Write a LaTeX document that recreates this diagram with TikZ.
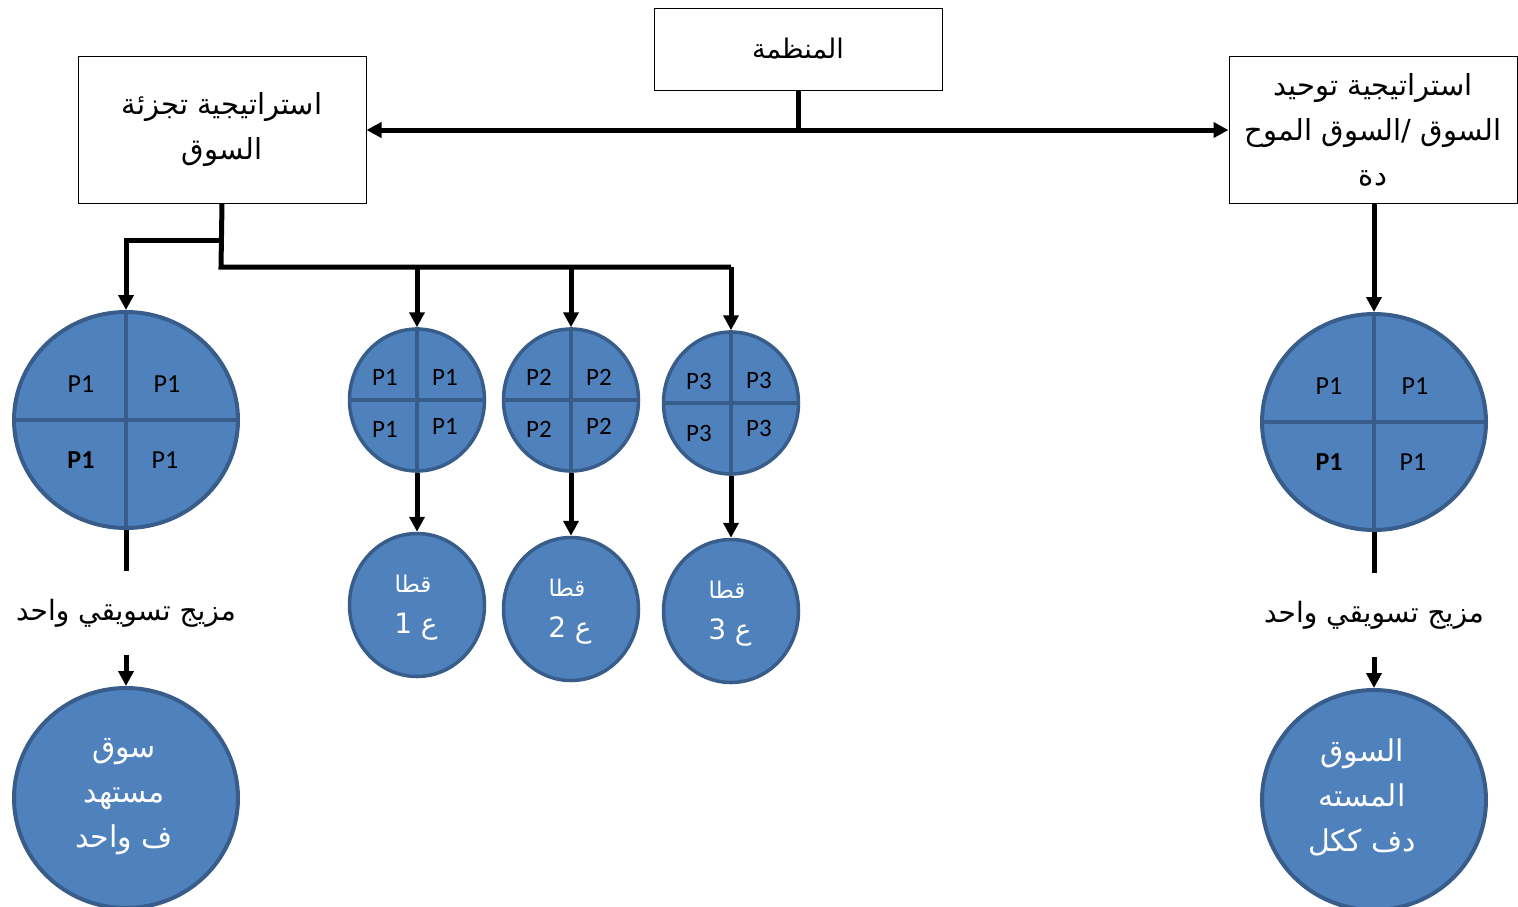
\documentclass[tikz,border=0pt]{standalone}
\usepackage{fontspec}
\usetikzlibrary{arrows.meta,shapes.geometric,calc}
\TeXXeTstate=1
\newfontfamily\arabicfont[Script=Arabic]{DejaVu Sans}
\newfontfamily\pfont{Carlito}
\definecolor{segblue}{RGB}{79,129,189}
\definecolor{segedge}{RGB}{56,93,138}
\tikzset{
  box/.style={draw=black, line width=1pt, fill=white, align=center, inner sep=0pt,
    minimum width=288pt, font=\arabicfont\fontsize{29}{45}\selectfont},
  conn/.style={line width=5pt, draw=black},
  arr/.style={conn, -{Triangle[length=15pt,width=15pt]}},
  bigc/.style={ellipse, fill=segblue, draw=segedge, line width=4pt, minimum width=224pt, minimum height=216pt, inner sep=0pt},
  smallc/.style={ellipse, fill=segblue, draw=segedge, line width=3.5pt, minimum width=135pt, minimum height=142pt, inner sep=0pt},
  quad/.style={draw=segedge, line width=4pt},
  plab/.style={font=\pfont\fontsize{26}{26}\selectfont, text=black, inner sep=0pt},
  splab/.style={font=\pfont\fontsize{25}{25}\selectfont, text=black, inner sep=0pt},
  bplab/.style={font=\pfont\bfseries\fontsize{26}{26}\selectfont, text=black, inner sep=0pt},
  mixtext/.style={font=\arabicfont\fontsize{28}{28}\selectfont, inner sep=0pt, minimum height=84pt},
  wtext/.style={text=white, align=center, font=\arabicfont\fontsize{30}{45}\selectfont},
}
\begin{document}
\begin{tikzpicture}[x=1pt,y=-1pt]
\useasboundingbox (0,0) rectangle (1518,906);

% top boxes
\node[box, minimum height=82pt, font=\arabicfont\fontsize{27}{27}\selectfont] (org) at (798,49) {\beginR المنظمة\endR};
\node[box, minimum height=147pt] (seg) at (222,130) {{\beginR استراتيجية تجزئة\endR}\\{\beginR السوق\endR}};
\node[box, minimum height=147pt] (uni) at (1373,130) {{\beginR استراتيجية توحيد\endR}\\{\beginR السوق /\kern0pt{}السوق الموح\endR}\\{\beginR دة\endR}};

\coordinate (hub) at (798,130);
\draw[conn] (org.south) -- (hub);
\draw[arr] (hub) -- (seg.east);
\draw[arr] (hub) -- (uni.west);

% left big circle
\node[bigc] (bigL) at (126,420) {};
\draw[quad] (bigL.north) -- (bigL.south);
\draw[quad] (bigL.west) -- (bigL.east);
\node[plab] (bL1) at (81,384) {P1};
\node[plab] (bL2) at (167,384) {P1};
\node[bplab] (bL3) at (81,460) {P1};
\node[plab] (bL4) at (165,460) {P1};

% small circles
\node[smallc] (c1) at (417,400) {};
\node[smallc] (c2) at (571,400) {};
\node[smallc] (c3) at (731,403) {};
\foreach \c in {c1,c2,c3}{
  \draw[quad, line width=3.5pt] (\c.north) -- (\c.south);
  \draw[quad, line width=3.5pt] (\c.west) -- (\c.east);
}
\node[splab] (c1a) at (385,377) {P1};
\node[splab] (c1b) at (445,377) {P1};
\node[splab] (c1c) at (385,429) {P1};
\node[splab] (c1d) at (445,426) {P1};
\node[splab] (c2a) at (539,377) {P2};
\node[splab] (c2b) at (599,377) {P2};
\node[splab] (c2c) at (539,429) {P2};
\node[splab] (c2d) at (599,426) {P2};
\node[splab] (c3a) at (699,381) {P3};
\node[splab] (c3b) at (759,380) {P3};
\node[splab] (c3c) at (699,433) {P3};
\node[splab] (c3d) at (759,428) {P3};

% left tree connectors
\coordinate (j1) at (221,240);
\coordinate (j2) at (221,267);
\draw[conn] (seg.south) -- (j2) -- (j2 -| c3.north);
\draw[arr] (j1) -| (bigL.north);
\draw[arr] (j2 -| c1.north) -- (c1.north);
\draw[arr] (j2 -| c2.north) -- (c2.north);
\draw[arr] (j2 -| c3.north) -- (c3.north);

% lower small circles
\node[smallc, minimum height=143pt] (d1) at (417,605) {};
\node[smallc, minimum height=143pt] (d2) at (571,609) {};
\node[smallc, minimum height=143pt] (d3) at (731,611) {};
\foreach \d/\n in {d1/1,d2/2,d3/3}{
  \node[text=white, font=\arabicfont\fontsize{23}{23}\selectfont] (\d t1) at ($(\d)+(-4,-21)$) {\beginR قطا\endR};
  \node[text=white, font=\arabicfont\fontsize{28}{28}\selectfont] (\d t2) at ($(\d)+(-1,22)$) {\beginR ع \n\endR};
}
\draw[arr] (c1.south) -- (d1.north);
\draw[arr] (c2.south) -- (d2.north);
\draw[arr] (c3.south) -- (d3.north);

% left mix & market
\node[mixtext] (mixL) at (126,613) {\beginR مزيج تسويقي واحد\endR};
\node[bigc, minimum height=220pt] (lowL) at (126,798) {};
\node[wtext] (lowLt) at (124,797) {{\beginR سوق\endR}\\{\beginR مستهد\endR}\\{\beginR ف واحد\endR}};
\draw[conn] (bigL.south) -- (mixL.north);
\draw[arr] (mixL.south) -- (lowL.north);

% right side
\node[bigc] (bigR) at (1374,422) {};
\draw[quad] (bigR.north) -- (bigR.south);
\draw[quad] (bigR.west) -- (bigR.east);
\node[plab] (bR1) at (1329,386) {P1};
\node[plab] (bR2) at (1415,386) {P1};
\node[bplab] (bR3) at (1329,462) {P1};
\node[plab] (bR4) at (1413,462) {P1};
\draw[arr] (uni.south -| bigR.north) -- (bigR.north);

\node[mixtext] (mixR) at (1374,615) {\beginR مزيج تسويقي واحد\endR};
\node[bigc, minimum height=220pt] (lowR) at (1374,800) {};
\node[wtext] (lowRt) at (1362,797) {{\beginR السوق\endR}\\{\beginR المسته\endR}\\{\beginR دف ككل\endR}};
\draw[conn] (bigR.south) -- (mixR.north);
\draw[arr] (mixR.south) -- (lowR.north);
\end{tikzpicture}
\end{document}
